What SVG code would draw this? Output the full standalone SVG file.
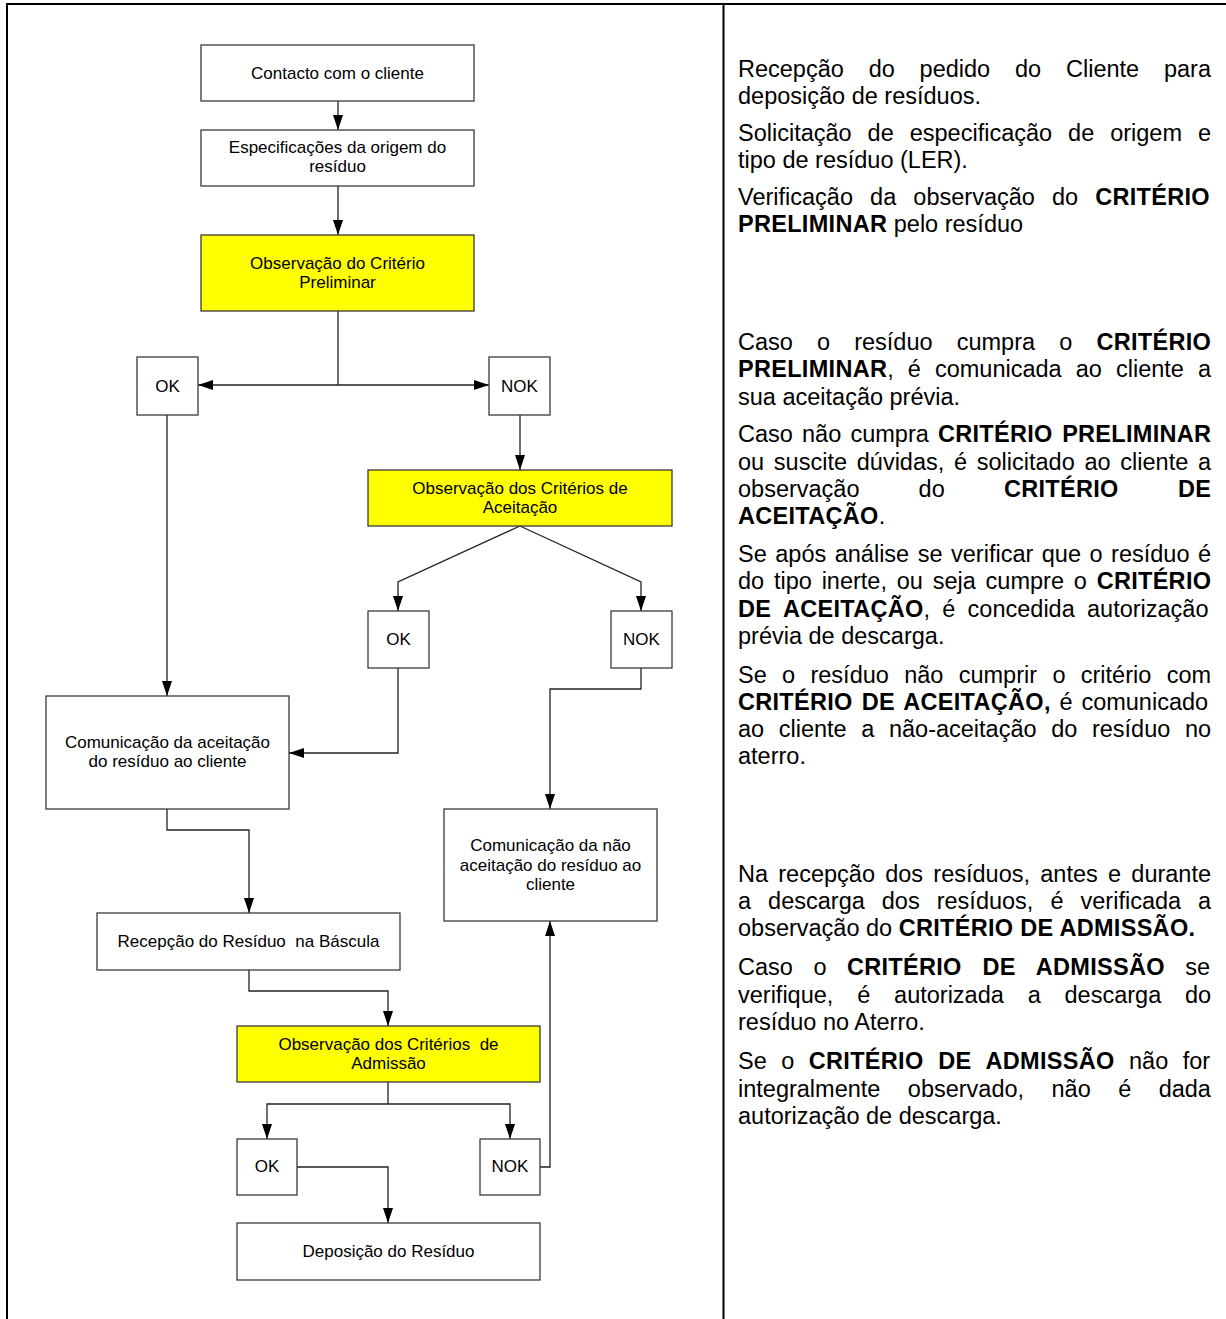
<svg xmlns="http://www.w3.org/2000/svg" width="1226" height="1319" viewBox="0 0 1226 1319">
<style>
.frame{stroke:#000;stroke-width:2;fill:none}
.box{fill:#fff;stroke:#3a3a3a;stroke-width:1.3}
.yel{fill:#ffff00;stroke:#3a3a3a;stroke-width:1.3}
.bt{font-family:"Liberation Sans",Arial,sans-serif;font-size:17px;fill:#000;text-anchor:middle}
.con{fill:none;stroke:#222;stroke-width:1.3}
.r{font-family:"Liberation Sans",Arial,sans-serif;font-size:23.5px;fill:#000}
.b{font-weight:bold;letter-spacing:0.3px}
</style>
<defs>
<marker id="ah" viewBox="0 0 15 10" refX="15" refY="5" markerWidth="15" markerHeight="10" markerUnits="userSpaceOnUse" orient="auto">
<path d="M0,0 L15,5 L0,10 Z" fill="#000"/>
</marker>
</defs>
<rect width="1226" height="1319" fill="#fff"/>
<g id="table">
<line class="frame" x1="6" y1="4" x2="1226" y2="4"/>
<line class="frame" x1="7" y1="3" x2="7" y2="1319"/>
<line class="frame" x1="723.5" y1="3" x2="723.5" y2="1319"/>
</g>
<g id="connectors">
<path class="con" d="M338,101 V130" marker-end="url(#ah)"/>
<path class="con" d="M338,186 V235" marker-end="url(#ah)"/>
<path class="con" d="M338,311 V385"/>
<path class="con" d="M338,385 H198" marker-end="url(#ah)"/>
<path class="con" d="M338,385 H489" marker-end="url(#ah)"/>
<path class="con" d="M520,415 V470" marker-end="url(#ah)"/>
<path class="con" d="M520,526 L398,582 V611" marker-end="url(#ah)"/>
<path class="con" d="M520,526 L641,582 V611" marker-end="url(#ah)"/>
<path class="con" d="M167,415 V696" marker-end="url(#ah)"/>
<path class="con" d="M398,668 V753 H289" marker-end="url(#ah)"/>
<path class="con" d="M641,668 V689 H550 V809" marker-end="url(#ah)"/>
<path class="con" d="M167,809 V830 H249 V913" marker-end="url(#ah)"/>
<path class="con" d="M249,970 V991 H388 V1026" marker-end="url(#ah)"/>
<path class="con" d="M388,1082 V1104"/>
<path class="con" d="M388,1104 H267 V1139" marker-end="url(#ah)"/>
<path class="con" d="M388,1104 H510 V1139" marker-end="url(#ah)"/>
<path class="con" d="M297,1167 H388 V1223" marker-end="url(#ah)"/>
<path class="con" d="M540,1167 H550 V921" marker-end="url(#ah)"/>
</g>
<g id="n-contacto">
<rect class="box" x="201" y="45" width="273" height="56"/>
<text class="bt" x="337.5" y="78.5">Contacto com o cliente</text>
</g>
<g id="n-especificacoes">
<rect class="box" x="201" y="130" width="273" height="56"/>
<text class="bt" x="337.5" y="153">Especificações da origem do</text>
<text class="bt" x="337.5" y="172">resíduo</text>
</g>
<g id="n-obs-preliminar">
<rect class="yel" x="201" y="235" width="273" height="76"/>
<text class="bt" x="337.5" y="269">Observação do Critério</text>
<text class="bt" x="337.5" y="287.5">Preliminar</text>
</g>
<g id="n-ok1">
<rect class="box" x="137" y="357" width="61" height="58"/>
<text class="bt" x="167.5" y="391.5">OK</text>
</g>
<g id="n-nok1">
<rect class="box" x="489" y="357" width="61" height="58"/>
<text class="bt" x="519.5" y="391.5">NOK</text>
</g>
<g id="n-obs-aceitacao">
<rect class="yel" x="368" y="470" width="304" height="56"/>
<text class="bt" x="520" y="494">Observação dos Critérios de</text>
<text class="bt" x="520" y="512.5">Aceitação</text>
</g>
<g id="n-ok2">
<rect class="box" x="368" y="611" width="61" height="57"/>
<text class="bt" x="398.5" y="645">OK</text>
</g>
<g id="n-nok2">
<rect class="box" x="611" y="611" width="61" height="57"/>
<text class="bt" x="641.5" y="645">NOK</text>
</g>
<g id="n-com-aceitacao">
<rect class="box" x="46" y="696" width="243" height="113"/>
<text class="bt" x="167.5" y="748">Comunicação da aceitação</text>
<text class="bt" x="167.5" y="767">do resíduo ao cliente</text>
</g>
<g id="n-com-nao">
<rect class="box" x="444" y="809" width="213" height="112"/>
<text class="bt" x="550.5" y="851">Comunicação da não</text>
<text class="bt" x="550.5" y="870.5">aceitação do resíduo ao</text>
<text class="bt" x="550.5" y="890">cliente</text>
</g>
<g id="n-recepcao">
<rect class="box" x="97" y="913" width="303" height="57"/>
<text class="bt" x="248.5" y="947">Recepção do Resíduo&#160; na Báscula</text>
</g>
<g id="n-obs-admissao">
<rect class="yel" x="237" y="1026" width="303" height="56"/>
<text class="bt" x="388.5" y="1050">Observação dos Critérios&#160; de</text>
<text class="bt" x="388.5" y="1068.5">Admissão</text>
</g>
<g id="n-ok3">
<rect class="box" x="237" y="1139" width="60" height="56"/>
<text class="bt" x="267" y="1172">OK</text>
</g>
<g id="n-nok3">
<rect class="box" x="480" y="1139" width="60" height="56"/>
<text class="bt" x="510" y="1172">NOK</text>
</g>
<g id="n-deposicao">
<rect class="box" x="237" y="1223" width="303" height="57"/>
<text class="bt" x="388.5" y="1257">Deposição do Resíduo</text>
</g>
<g id="descriptions">
<text class="r" x="738" y="77" style="word-spacing:18.3px">Recepção do pedido do Cliente para</text>
<text class="r" x="738" y="104">deposição de resíduos.</text>
<text class="r" x="738" y="141" style="word-spacing:9.44px">Solicitação de especificação de origem e</text>
<text class="r" x="738" y="168">tipo de resíduo (LER).</text>
<text class="r" x="738" y="205" style="word-spacing:10.6px">Verificação da observação do <tspan class="b">CRITÉRIO</tspan></text>
<text class="r" x="738" y="232"><tspan class="b">PRELIMINAR</tspan> pelo resíduo</text>
<text class="r" x="738" y="350" style="word-spacing:17.6px">Caso o resíduo cumpra o <tspan class="b">CRITÉRIO</tspan></text>
<text class="r" x="738" y="377" style="word-spacing:7.54px"><tspan class="b">PRELIMINAR</tspan>, é comunicada ao cliente a</text>
<text class="r" x="738" y="405">sua aceitação prévia.</text>
<text class="r" x="738" y="442" style="word-spacing:2.65px">Caso não cumpra <tspan class="b">CRITÉRIO PRELIMINAR</tspan></text>
<text class="r" x="738" y="470" style="word-spacing:3.2px">ou suscite dúvidas, é solicitado ao cliente a</text>
<text class="r" x="738" y="497" style="word-spacing:52.6px">observação do <tspan class="b">CRITÉRIO DE</tspan></text>
<text class="r" x="738" y="524"><tspan class="b">ACEITAÇÃO</tspan>.</text>
<text class="r" x="738" y="562" style="word-spacing:1.98px">Se após análise se verificar que o resíduo é</text>
<text class="r" x="738" y="589" style="word-spacing:3.27px">do tipo inerte, ou seja cumpre o <tspan class="b">CRITÉRIO</tspan></text>
<text class="r" x="738" y="617" style="word-spacing:5.7px"><tspan class="b">DE ACEITAÇÃO</tspan>, é concedida autorização</text>
<text class="r" x="738" y="644">prévia de descarga.</text>
<text class="r" x="738" y="683" style="word-spacing:8.8px">Se o resíduo não cumprir o critério com</text>
<text class="r" x="738" y="710" style="word-spacing:2.27px"><tspan class="b">CRITÉRIO DE ACEITAÇÃO,</tspan> é comunicado</text>
<text class="r" x="738" y="737" style="word-spacing:8.07px">ao cliente a não-aceitação do resíduo no</text>
<text class="r" x="738" y="764">aterro.</text>
<text class="r" x="738" y="882" style="word-spacing:3.72px">Na recepção dos resíduos, antes e durante</text>
<text class="r" x="738" y="909" style="word-spacing:10.5px">a descarga dos resíduos, é verificada a</text>
<text class="r" x="738" y="936">observação do <tspan class="b">CRITÉRIO DE ADMISSÃO.</tspan></text>
<text class="r" x="738" y="975" style="word-spacing:14px">Caso o <tspan class="b">CRITÉRIO DE ADMISSÃO</tspan> se</text>
<text class="r" x="738" y="1003" style="word-spacing:17.3px">verifique, é autorizada a descarga do</text>
<text class="r" x="738" y="1030">resíduo no Aterro.</text>
<text class="r" x="738" y="1069" style="word-spacing:7.97px">Se o <tspan class="b">CRITÉRIO DE ADMISSÃO</tspan> não for</text>
<text class="r" x="738" y="1097" style="word-spacing:20.9px">integralmente observado, não é dada</text>
<text class="r" x="738" y="1124">autorização de descarga.</text>
</g>
</svg>
